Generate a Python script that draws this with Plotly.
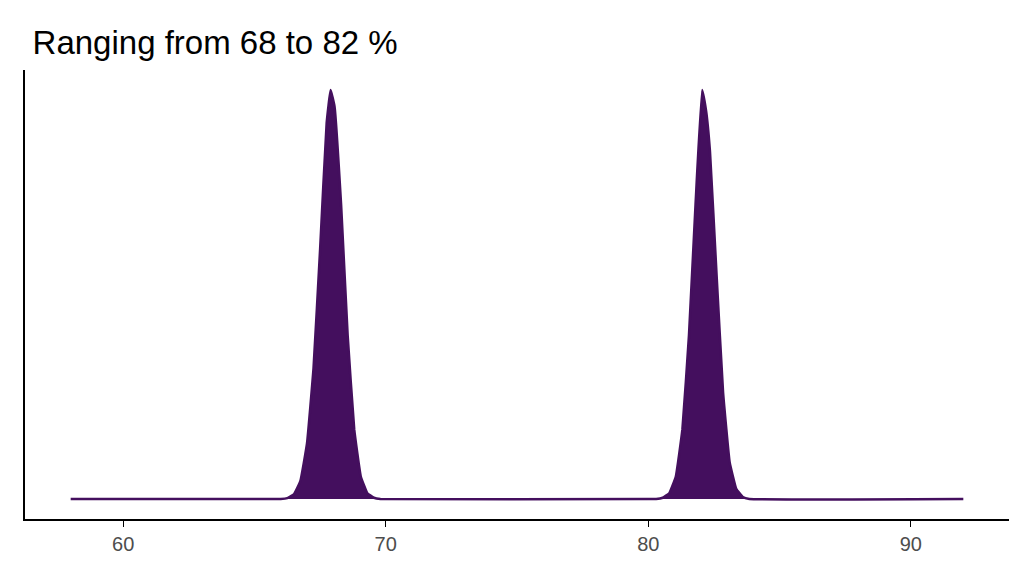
import plotly.graph_objects as go

# density estimate (x in %, y relative density)
x_vals = [58.0, 66.0, 66.25, 66.5, 66.75, 67.0, 67.25, 67.5, 67.75, 67.9, 68.05, 68.3, 68.55, 68.8, 69.05, 69.3, 69.55, 69.8,
          80.0, 80.3, 80.55, 80.8, 81.05, 81.3, 81.55, 81.8, 82.05, 82.2, 82.35, 82.6, 82.85, 83.1, 83.35, 83.6, 83.85, 92.0]
y_vals = [0.0, 0.0, 0.002, 0.011, 0.044, 0.135, 0.32, 0.61, 0.92, 1.0, 0.96, 0.72, 0.40, 0.17, 0.055, 0.014, 0.003, 0.0,
          0.0, 0.0, 0.003, 0.014, 0.055, 0.17, 0.40, 0.72, 1.0, 0.95, 0.85, 0.55, 0.26, 0.09, 0.025, 0.005, 0.0, 0.0]
x_ticks = [60, 70, 80, 90]
title_text = "Ranging from 68 to 82 %"

fig = go.Figure(go.Scatter(x=x_vals, y=y_vals, mode="lines", fill="tozeroy",
                           line=dict(color="#440f5e", width=2.5, shape="spline", smoothing=0.3),
                           fillcolor="#440f5e"))
fig.update_layout(
    width=1024, height=576, plot_bgcolor="white", paper_bgcolor="white",
    margin=dict(l=17, r=23, t=62, b=65), showlegend=False,
    title=dict(text=title_text, x=0.024, xanchor="left", y=0.94, yanchor="middle",
               font=dict(family="Liberation Sans, Arial", size=33, color="black")),
    font=dict(family="Liberation Sans, Arial"),
)
fig.update_xaxes(range=[56.26, 93.74], tickvals=x_ticks, showgrid=False, zeroline=False,
                 showline=True, linecolor="black", linewidth=2, ticks="outside", ticklen=6,
                 tickcolor="black", tickfont=dict(size=20, color="#4d4d4d"))
fig.update_yaxes(range=[-0.049, 1.049], showticklabels=False, showgrid=False, zeroline=False,
                 showline=True, linecolor="black", linewidth=2, ticks="")
fig.write_html("out.html")
